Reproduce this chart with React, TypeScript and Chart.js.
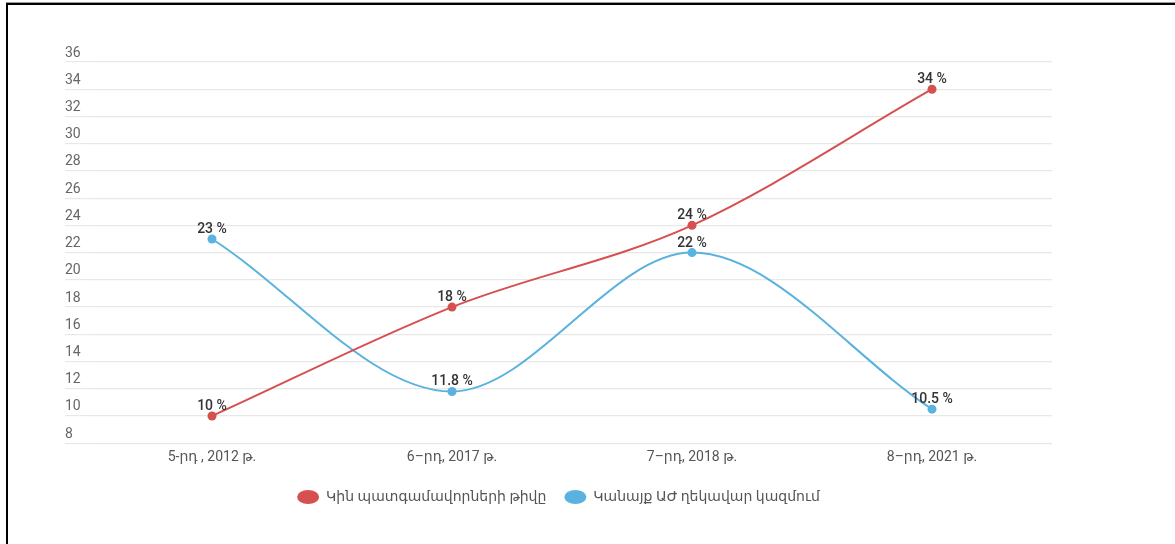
import React, { useEffect, useRef } from 'react';
import { Chart, registerables } from 'chart.js';

Chart.register(...registerables);

const categories = ['5-րդ , 2012 թ.', '6–րդ, 2017 թ.', '7–րդ, 2018 թ.', '8–րդ, 2021 թ.'];
const seriesNames = ['Կին պատգամավորների թիվը', 'Կանայք ԱԺ ղեկավար կազմում'];
const womenDeputies = [10, 18, 24, 34];
const womenLeadership = [23, 11.8, 22, 10.5];
const yMin = 8;
const yMax = 36;
const yStep = 2;

const RED = '#d65050';
const BLUE = '#5ab2de';
const FONT = "Roboto, 'Noto Sans', 'DejaVu Sans', sans-serif";

const valueLabels = {
  id: 'valueLabels',
  afterDatasetsDraw(chart: any) {
    const ctx = chart.ctx;
    ctx.save();
    ctx.font = `500 14px ${FONT}`;
    ctx.fillStyle = '#333';
    ctx.textAlign = 'center';
    ctx.textBaseline = 'alphabetic';
    chart.data.datasets.forEach((ds: any, i: number) => {
      const meta = chart.getDatasetMeta(i);
      meta.data.forEach((pt: any, j: number) => {
        ctx.fillText(`${ds.data[j]} %`, pt.x, pt.y - 6);
      });
    });
    ctx.restore();
  },
};

export default function App() {
  const canvasRef = useRef<HTMLCanvasElement | null>(null);

  useEffect(() => {
    if (!canvasRef.current) return;
    const chart = new Chart(canvasRef.current, {
      type: 'line',
      data: {
        labels: categories,
        datasets: [
          {
            label: seriesNames[0],
            data: womenDeputies,
            borderColor: RED,
            backgroundColor: RED,
            pointBackgroundColor: RED,
            pointBorderColor: RED,
            borderWidth: 2,
            pointRadius: 4.5,
            pointBorderWidth: 0,
            cubicInterpolationMode: 'monotone',
          },
          {
            label: seriesNames[1],
            data: womenLeadership,
            borderColor: BLUE,
            backgroundColor: BLUE,
            pointBackgroundColor: BLUE,
            pointBorderColor: BLUE,
            borderWidth: 2,
            pointRadius: 4.5,
            pointBorderWidth: 0,
            cubicInterpolationMode: 'monotone',
          },
        ],
      },
      options: {
        animation: false,
        responsive: true,
        maintainAspectRatio: false,
        layout: { padding: { left: 65, right: 123, top: 62, bottom: 30 } },
        scales: {
          x: {
            offset: true,
            grid: { display: false, drawTicks: false },
            border: { display: false },
            ticks: { color: '#555', font: { family: FONT, size: 14 }, padding: 6 },
          },
          y: {
            min: yMin,
            max: yMax,
            grid: { color: '#e8e8e8', lineWidth: 1.2, tickLength: 27, drawTicks: true },
            border: { display: false },
            afterFit: (axis: any) => {
              axis.width = 27;
            },
            ticks: {
              stepSize: yStep,
              color: '#666',
              font: { family: FONT, size: 14 },
              crossAlign: 'far',
              labelOffset: -9,
              padding: 0,
            },
          },
        },
        plugins: {
          legend: {
            position: 'bottom',
            labels: {
              usePointStyle: true,
              pointStyle: 'circle',
              pointStyleWidth: 22,
              boxHeight: 10,
              color: '#555',
              font: { family: FONT, size: 14 },
              padding: 18,
            },
          },
          tooltip: { enabled: false },
        },
      },
      plugins: [valueLabels],
    } as any);
    return () => chart.destroy();
  }, []);

  return (
    <div style={{ position: 'fixed', left: 0, top: 0, width: 1175, height: 544, background: '#fff' }}>
      <canvas ref={canvasRef} />
      <div style={{ position: 'absolute', left: 6, top: 2, width: 1169, height: 1, background: '#999' }} />
      <div style={{ position: 'absolute', left: 6, top: 3, width: 1169, height: 2, background: '#000' }} />
      <div style={{ position: 'absolute', left: 6, top: 3, width: 2, height: 541, background: '#000' }} />
    </div>
  );
}
